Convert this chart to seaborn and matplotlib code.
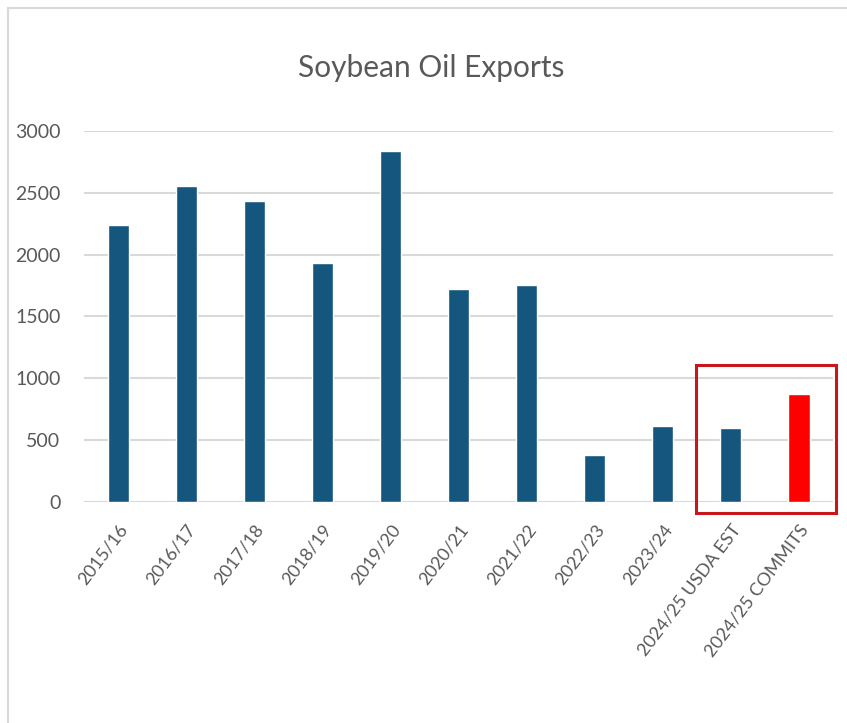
import matplotlib.pyplot as plt
import seaborn as sns
import pandas as pd
from matplotlib.patches import Rectangle
from matplotlib.lines import Line2D

# ----------------------------------------
# Data
# ----------------------------------------
seasons = ['2015/16', '2016/17', '2017/18', '2018/19', '2019/20', '2020/21',
           '2021/22', '2022/23', '2023/24', '2024/25 USDA EST', '2024/25 COMMITS']
exports = [2240, 2555, 2435, 1930, 2840, 1725, 1755, 380, 612, 600, 873]
kind = ['hist'] * 10 + ['commit']

df = pd.DataFrame({'Season': seasons, 'Exports': exports, 'Kind': kind})

BLUE = '#15567e'
RED = '#ff0000'
GRAY_TXT = '#595959'
GRID = '#d9d9d9'

sns.set_style('white')
plt.rcParams['font.family'] = ['Lato', 'DejaVu Sans']

fig = plt.figure(figsize=(8.47, 7.23), dpi=100)
ax = fig.add_axes([0.0992, 0.3057, 0.8843, 0.5131])

sns.barplot(data=df, x='Season', y='Exports', hue='Kind',
            palette={'hist': BLUE, 'commit': RED}, dodge=False, saturation=1,
            width=0.31, legend=False, ax=ax, zorder=3)

ax.set_ylim(0, 3000)
ax.set_xlim(-0.5, len(seasons) - 0.5)
ax.set_yticks(range(0, 3001, 500))
ax.yaxis.grid(True, color=GRID, linewidth=1.5, zorder=0)
ax.set_axisbelow(True)
for s in ax.spines.values():
    s.set_visible(False)
ax.tick_params(axis='both', length=0, colors=GRAY_TXT)
ax.tick_params(axis='y', labelsize=14, pad=17)
ax.tick_params(axis='x', labelsize=13, pad=14)
ax.set_xlabel('')
ax.set_ylabel('')
plt.setp(ax.get_xticklabels(), rotation=53, ha='right', rotation_mode='anchor')

# title centred on the whole chart area
fig.text(0.509, 0.906, 'Soybean Oil Exports', fontsize=21.5, color=GRAY_TXT,
         ha='center', va='center')

# highlight box around the 2024/25 bars
box = Rectangle((8.485, -89), 2.055, 1196, fill=False, edgecolor='#c8161d',
                linewidth=2.2, clip_on=False, zorder=5)
ax.add_patch(box)

# outer chart frame (left and top edges)
fig.add_artist(Line2D([0.0095, 0.0095], [0.0, 0.989], color=GRID, linewidth=1.5))
fig.add_artist(Line2D([0.0095, 1.0], [0.989, 0.989], color=GRID, linewidth=1.5))

fig.savefig('out.png', dpi=100)
